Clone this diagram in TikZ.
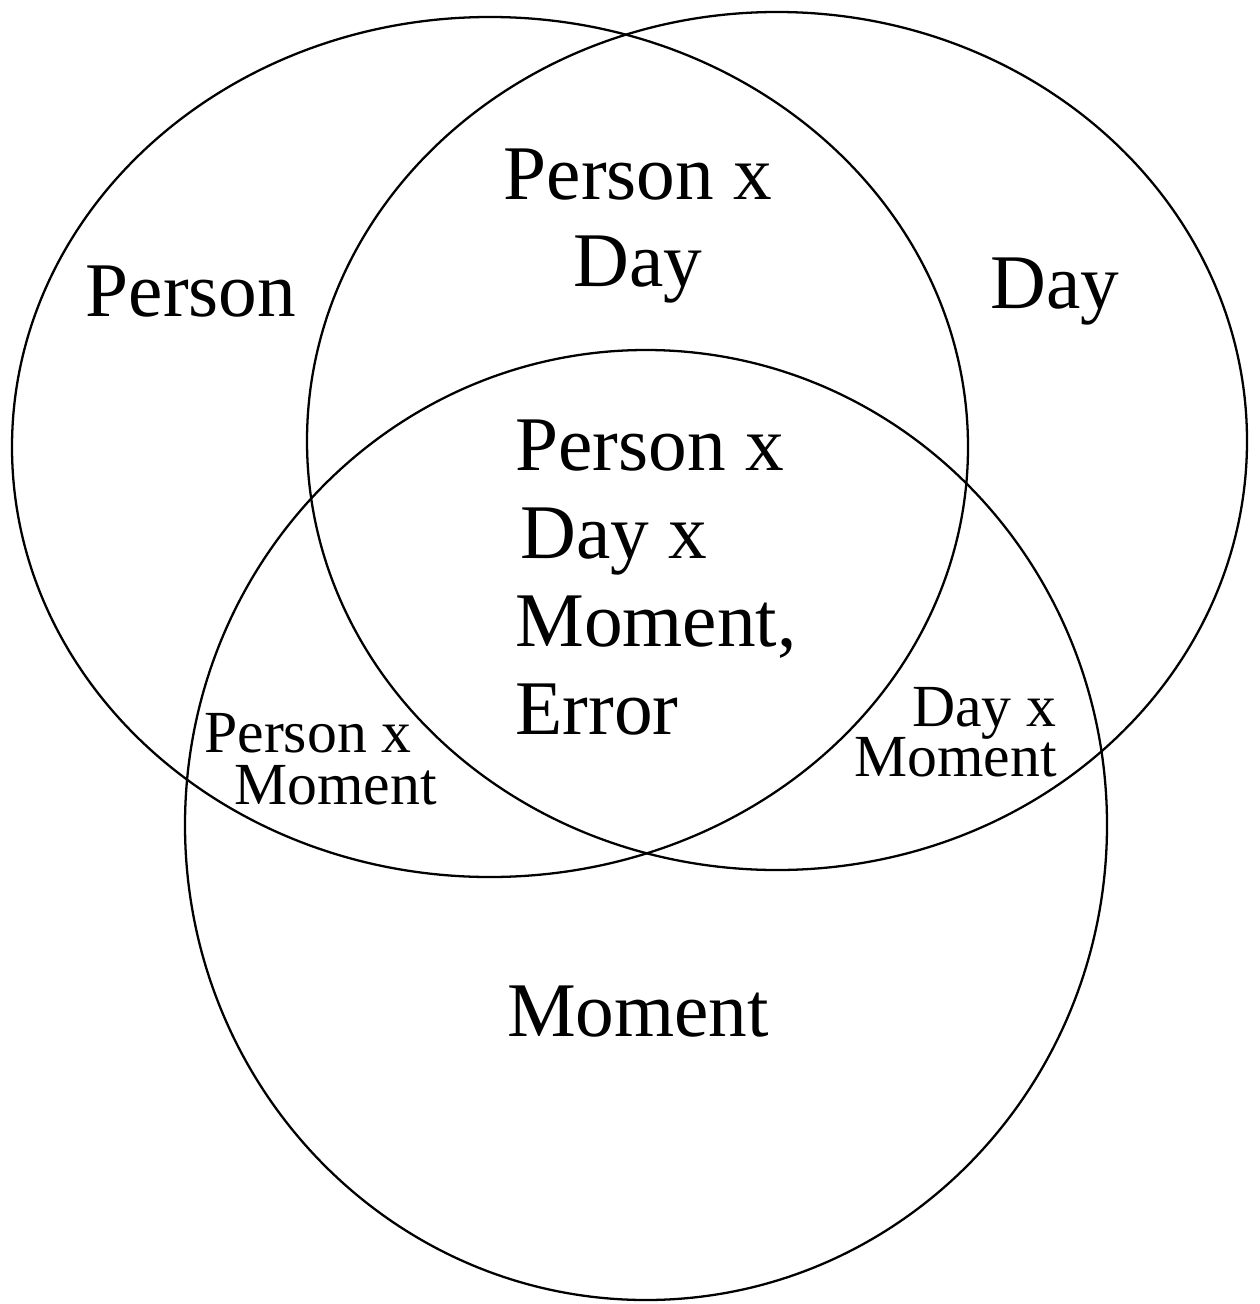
\documentclass[tikz,border=0pt]{standalone}
\usepackage{fontspec}
\setmainfont{Liberation Serif}
\usetikzlibrary{positioning}
\tikzset{
  ring/.style={draw=black, line width=1.3pt},
  biglabel/.style={inner sep=0pt, font=\fontsize{44}{50}\selectfont},
  smalllabel/.style={inner sep=0pt, font=\fontsize{34}{30}\selectfont},
}
\begin{document}
\begin{tikzpicture}[x=0.02cm, y=-0.02cm]
\useasboundingbox (0,0) rectangle (1259,1304);

% --- The three sets ---
\draw[ring] (490,447) ellipse [x radius=478, y radius=430];
\draw[ring] (777,441) ellipse [x radius=470, y radius=429];
\draw[ring] (646,825) ellipse [x radius=461, y radius=475];

% --- Single factors ---
\node[biglabel] (person) at (191,292) {Person};
\node[biglabel] (day) at (1055,292) {Day};
\node[biglabel] (moment) at (638,1012) {Moment};

% --- Two-way interactions ---
\node[biglabel, align=center] (persday) at (638,226) {Person x\\Day};
\node[smalllabel, anchor=base west] (persmomA) at (204,752) {Person x};
\node[smalllabel, anchor=base west] (persmomB) at (234,804) {Moment};
\node[smalllabel, anchor=base east] (daymomA) at (1057,726) {Day x};
\node[smalllabel, anchor=base east] (daymomB) at (1057,776) {Moment};

% --- Three-way interaction and error ---
\node[biglabel, align=left, anchor=north west] (allthree) at (515,420)
  {Person x\\\hspace{0.1cm}Day x\\Moment,\\Error};

\end{tikzpicture}
\end{document}
